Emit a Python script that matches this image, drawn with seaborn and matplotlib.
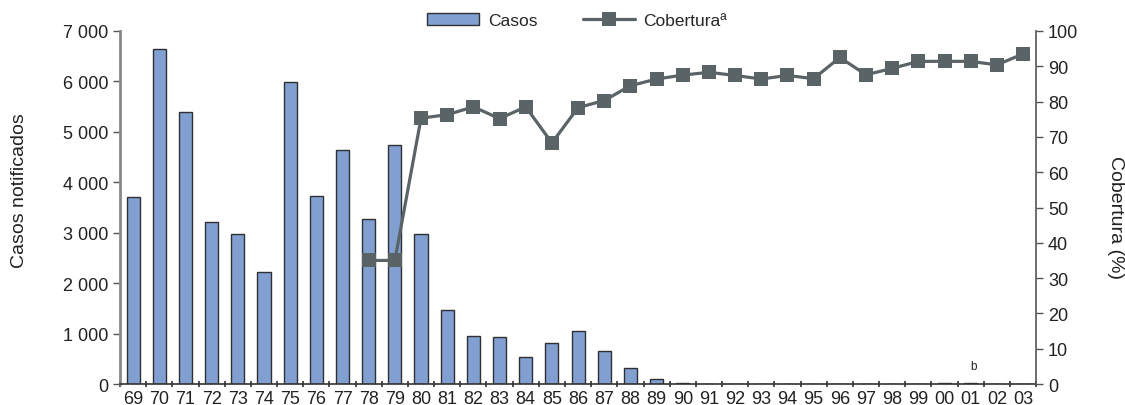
import matplotlib
matplotlib.use("Agg")
import matplotlib.pyplot as plt
import seaborn as sns
import numpy as np
import pandas as pd
from matplotlib.patches import Patch
from matplotlib.lines import Line2D
from matplotlib.ticker import FuncFormatter, FixedLocator

years = ["69", "70", "71", "72", "73", "74", "75", "76", "77", "78", "79",
         "80", "81", "82", "83", "84", "85", "86", "87", "88", "89", "90",
         "91", "92", "93", "94", "95", "96", "97", "98", "99", "00", "01",
         "02", "03"]
casos = [3700, 6650, 5400, 3220, 2970, 2230, 5980, 3730, 4640, 3280, 4730,
         2970, 1460, 950, 930, 540, 810, 1050, 650, 320, 100, 15,
         0, 0, 0, 0, 0, 0, 0, 0, 0, 12, 12, 0, 0]
cobertura = [np.nan] * 9 + [35, 35, 75.3, 76.3, 78.5, 75.2, 78.5, 68.3,
             78.3, 80.3, 84.5, 86.4, 87.5, 88.3, 87.4, 86.4, 87.4, 86.5,
             92.5, 87.6, 89.4, 91.4, 91.4, 91.4, 90.4, 93.5]

df = pd.DataFrame({"Año": years, "Casos": casos, "Cobertura": cobertura})

sns.set_theme(style="white")
plt.rcParams["font.family"] = ["Liberation Sans", "DejaVu Sans"]

fig = plt.figure(figsize=(11.25, 4.06), dpi=100)
ax = fig.add_axes([0.1067, 0.0517, 0.8143, 0.8695])

bar_color = "#819fd0"
line_color = "#5a6366"

sns.barplot(data=df, x="Año", y="Casos", order=years, color=bar_color,
            width=0.5, edgecolor="#2f3033", linewidth=1.0, saturation=1,
            ax=ax)
ax2 = ax.twinx()
sns.pointplot(data=df, x="Año", y="Cobertura", order=years, color=line_color,
              markers="s", markersize=10, linewidth=2.3, ax=ax2, errorbar=None)
for ln in ax2.lines:
    ln.set_markersize(10)
    ln.set_markeredgewidth(0)

n = len(years)
ax.set_xlim(-0.5, n - 0.5)
ax2.set_xlim(-0.5, n - 0.5)
ax.set_ylim(0, 7000)
ax2.set_ylim(0, 100)

ax.set_yticks(np.arange(0, 7001, 1000))
ax.yaxis.set_major_formatter(FuncFormatter(lambda v, p: f"{int(v):,}".replace(",", " ")))
ax2.set_yticks(np.arange(0, 101, 10))

ax.set_xticks(range(n))
ax.set_xticklabels(years)
ax.xaxis.set_minor_locator(FixedLocator(np.arange(-0.5, n, 1.0)))
ax.tick_params(axis="x", which="major", length=0, labelsize=13, pad=4, colors="#222222")
ax.tick_params(axis="x", which="minor", length=4, width=1.2, direction="inout", color="#333333", bottom=True)
ax.tick_params(axis="y", which="major", length=5, width=1.0, direction="out",
               labelsize=13, color="#555555", labelcolor="#222222", left=True)
ax2.tick_params(axis="y", which="major", length=5, width=1.0, direction="out",
                labelsize=13, color="#555555", labelcolor="#222222", right=True)

ax.set_xlabel("")
ax.set_ylabel("Casos notificados", fontsize=14, color="#222222")
ax.yaxis.set_label_coords(-0.100, 0.55)
ax2.set_ylabel("Cobertura (%)", fontsize=14, color="#222222", rotation=270)
ax2.yaxis.set_label_coords(1.096, 0.475)

for a in (ax, ax2):
    a.spines["top"].set_visible(False)
ax.spines["right"].set_visible(False)
ax2.spines["left"].set_visible(False)
ax2.spines["bottom"].set_visible(False)
ax.spines["left"].set_color("#888888")
ax.spines["left"].set_linewidth(2)
ax.spines["bottom"].set_color("#333333")
ax.spines["bottom"].set_linewidth(1.2)
ax2.spines["right"].set_color("#555555")
ax2.spines["right"].set_linewidth(1.2)

# footnote "b" above 2001
idx01 = years.index("01")
ax.annotate("b", xy=(idx01, casos[idx01]), xytext=(2, 8), textcoords="offset points",
            ha="center", va="bottom", fontsize=8.5, color="#222222")

handles = [Patch(facecolor=bar_color, edgecolor="#2f3033", linewidth=1.0),
           Line2D([0], [0], color=line_color, linewidth=2.3, marker="s",
                  markersize=10, markeredgewidth=0)]
fig.legend(handles, ["Casos", "Coberturaª"], loc="center", ncol=2,
           bbox_to_anchor=(0.513, 0.948), frameon=False, fontsize=12.5,
           handlelength=3.0, handleheight=0.7, columnspacing=2.6, handletextpad=0.5)

fig.savefig("out.png", dpi=100)
